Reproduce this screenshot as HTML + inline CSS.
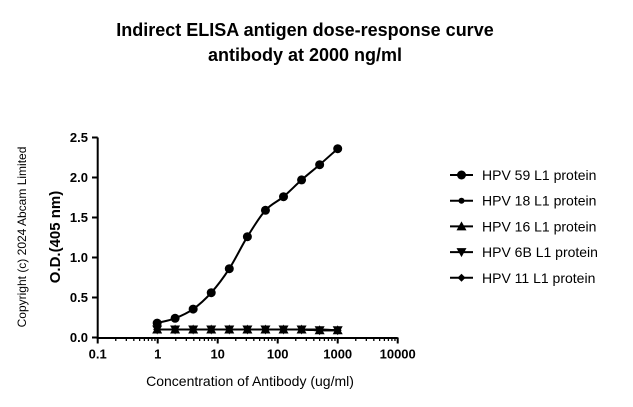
<!DOCTYPE html>
<html><head><meta charset="utf-8"><style>
body{margin:0;background:#fff;width:633px;height:402px;overflow:hidden}
text{font-family:"Liberation Sans",Arial,sans-serif;fill:#000}
</style></head><body>
<svg id="chart" width="633" height="402">
<text x="305" y="36" text-anchor="middle" font-size="18" font-weight="bold">Indirect ELISA antigen dose-response curve</text>
<text x="305" y="61" text-anchor="middle" font-size="18" font-weight="bold">antibody at 2000 ng/ml</text>
<text transform="translate(26,237) rotate(-90)" text-anchor="middle" font-size="12">Copyright (c) 2024 Abcam Limited</text>
<text transform="translate(60,237) rotate(-90)" text-anchor="middle" font-size="15" font-weight="bold">O.D.(405 nm)</text>
<text x="250" y="386" text-anchor="middle" font-size="14">Concentration of Antibody (ug/ml)</text>
<g id="axes"></g><g id="series"></g><g id="legend"></g>
</svg>
<script>
const xs=[0.98,1.95,3.9,7.8,15.6,31.25,62.5,125,250,500,1000];
const hpv59=[0.18,0.24,0.355,0.56,0.86,1.26,1.59,1.76,1.97,2.16,2.36];
const hpv18=[0.1,0.1,0.1,0.1,0.1,0.1,0.1,0.1,0.1,0.1,0.09];
const hpv16=[0.1,0.1,0.1,0.1,0.1,0.1,0.1,0.1,0.1,0.09,0.09];
const hpv6b=[0.1,0.1,0.1,0.1,0.1,0.1,0.1,0.1,0.1,0.09,0.09];
const hpv11=[0.1,0.1,0.1,0.1,0.1,0.1,0.1,0.1,0.1,0.09,0.09];
const xTicks=[0.1,1,10,100,1000,10000];
const xTickLabels=["0.1","1","10","100","1000","10000"];
const yTicks=[0,0.5,1,1.5,2,2.5];
const yTickLabels=["0.0","0.5","1.0","1.5","2.0","2.5"];
const legendNames=["HPV 59 L1 protein","HPV 18 L1 protein","HPV 16 L1 protein","HPV 6B L1 protein","HPV 11 L1 protein"];
const NS="http://www.w3.org/2000/svg";
const X=v=>97.7+60*(Math.log10(v)+1);
const Y=v=>337.5-80*v;
function mk(tag,attrs,parent){const e=document.createElementNS(NS,tag);for(const k in attrs)e.setAttribute(k,attrs[k]);parent.appendChild(e);return e;}
const ax=document.getElementById('axes');
let e=mk('line',{x1:97.7,x2:97.7,y1:Y(2.5),y2:Y(0)+1,stroke:'#000','stroke-width':2},ax);


e=mk('line',{x1:96.7,x2:X(10000),y1:Y(0)+0.5,y2:Y(0)+0.5,stroke:'#000','stroke-width':2},ax);


yTicks.forEach((t,i)=>{
 mk('line',{x1:92,x2:97.7,y1:Y(t),y2:Y(t),stroke:'#000','stroke-width':2},ax);
 const tx=mk('text',{x:88,y:Y(t)+4.5,'text-anchor':'end','font-size':13,'font-weight':'bold'},ax);tx.textContent=yTickLabels[i];
 
 
});
xTicks.forEach((t,i)=>{
 mk('line',{x1:X(t),x2:X(t),y1:Y(0),y2:Y(0)+6,stroke:'#000','stroke-width':2},ax);
 if(i<xTicks.length-1)for(let m=2;m<10;m++){const v=t*m;mk('line',{x1:X(v),x2:X(v),y1:Y(0),y2:Y(0)+3.5,stroke:'#000','stroke-width':1.3},ax);}
 const tx=mk('text',{x:X(t),y:Y(0)+21,'text-anchor':'middle','font-size':13,'font-weight':'bold'},ax);tx.textContent=xTickLabels[i];
 
 
});
function marker(type,cx,cy,p){
 if(type==0)return mk('circle',{cx,cy,r:4.5},p);
 if(type==1)return mk('circle',{cx,cy,r:3},p);
 if(type==2)return mk('polygon',{points:`${cx},${cy-5} ${cx+5},${cy+4} ${cx-5},${cy+4}`},p);
 if(type==3)return mk('polygon',{points:`${cx},${cy+5} ${cx+5},${cy-4} ${cx-5},${cy-4}`},p);
 return mk('polygon',{points:`${cx},${cy-4} ${cx+4},${cy} ${cx},${cy+4} ${cx-4},${cy}`},p);
}
function smoothPath(px,py){
 const n=px.length,d=[],m=[];
 for(let i=0;i<n-1;i++)d.push((py[i+1]-py[i])/(px[i+1]-px[i]));
 for(let i=0;i<n;i++){if(i==0)m.push(d[0]);else if(i==n-1)m.push(d[n-2]);else m.push(d[i-1]*d[i]<=0?0:(d[i-1]+d[i])/2);}
 let s=`M${px[0]},${py[0]}`;
 for(let i=0;i<n-1;i++){const h=px[i+1]-px[i];s+=` C${px[i]+h/3},${py[i]+m[i]*h/3} ${px[i+1]-h/3},${py[i+1]-m[i+1]*h/3} ${px[i+1]},${py[i+1]}`;}
 return s;
}
const sg=document.getElementById('series');
const all=[hpv59,hpv18,hpv16,hpv6b,hpv11];
const sNames=['hpv59','hpv18','hpv16','hpv6b','hpv11'];
all.forEach((vals,k)=>{
 const g=mk('g',{},sg);
 
 
 const p=mk('path',{d:smoothPath(xs.map(X),vals.map(Y)),fill:'none',stroke:'#000','stroke-width':2},g);
 
 
 vals.forEach((v,i)=>{const mm=marker(k,X(xs[i]),Y(v),g);
  
  });
});
const lg=document.getElementById('legend');
legendNames.forEach((nm,k)=>{
 const y=175+25.7*k;
 const g=mk('g',{},lg);
 
 
 mk('line',{x1:450,x2:473,y1:y,y2:y,stroke:'#000','stroke-width':2},g);
 marker(k,461.5,y,g);
 const t=mk('text',{x:482,y:y+5,'font-size':14},g);t.textContent=nm;
});
</script>
</body></html>
